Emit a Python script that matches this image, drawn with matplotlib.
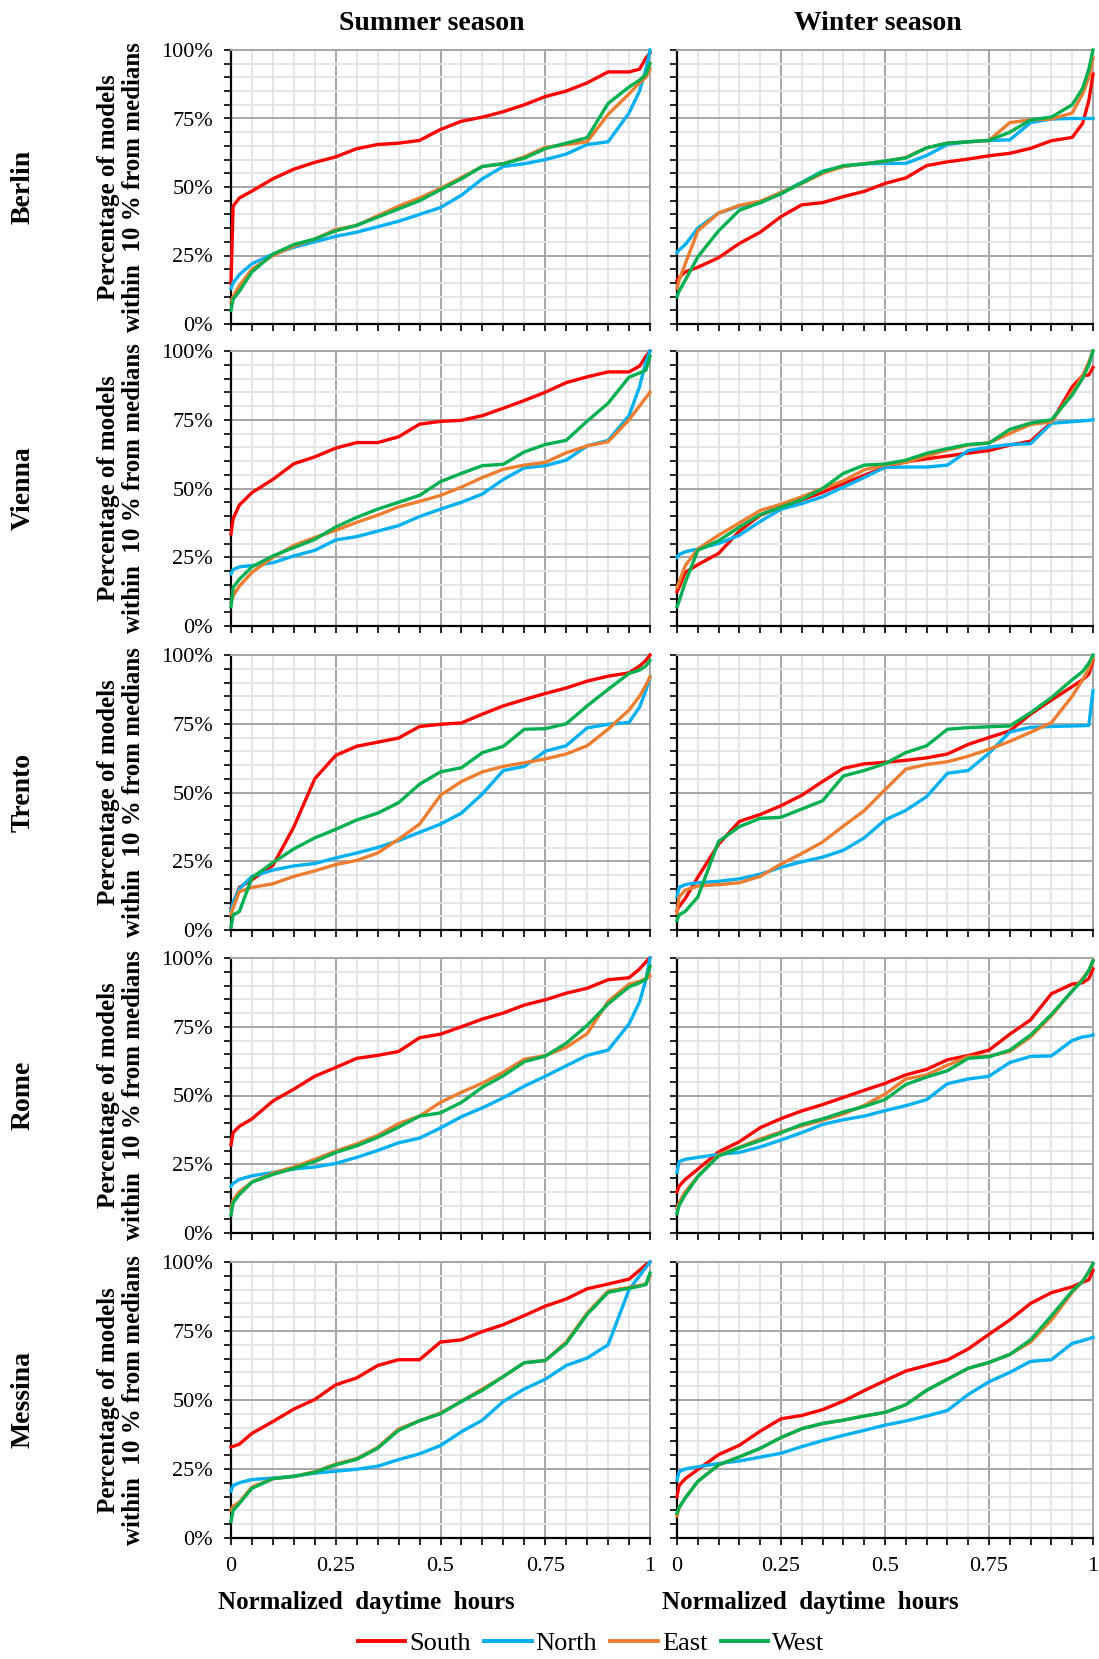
import matplotlib
matplotlib.use("Agg")
import matplotlib.pyplot as plt
from matplotlib.lines import Line2D
import numpy as np

plt.rcParams['font.family'] = ['Liberation Serif', 'DejaVu Serif']
SERIF = ['Liberation Serif', 'DejaVu Serif']

# ---------------- data ----------------
x_grid = [0, 0.005, 0.02, 0.05, 0.1, 0.15, 0.2, 0.25, 0.3, 0.35, 0.4, 0.45, 0.5,
          0.55, 0.6, 0.65, 0.7, 0.75, 0.8, 0.85, 0.9, 0.95, 0.975, 0.99, 1.0]

cities = ["Berlin", "Vienna", "Trento", "Rome", "Messina"]
seasons = ["Summer season", "Winter season"]
series_names = ["South", "North", "East", "West"]
series_colors = ["#FF0000", "#00B0F0", "#ED7D31", "#00B050"]

# Berlin
berlin_summer_south = [15, 43, 46, 48.5, 53, 56.5, 59, 61, 64, 65.5, 66, 67, 71, 74, 75.5, 77.5, 80, 83, 85, 88, 92, 92, 93, 97, 99]
berlin_summer_north = [13, 15, 18, 22, 25.5, 28, 30, 32, 33.5, 35.5, 37.5, 40, 42.5, 47, 53, 57.5, 58.5, 60, 62, 65.5, 66.5, 77, 85, 93, 100]
berlin_summer_east = [8, 10, 14, 20, 25, 28.5, 31, 34.5, 36, 39.5, 43, 46, 49.5, 53.5, 57.5, 58.5, 61, 64.5, 65.5, 66.5, 76.5, 84, 88, 90, 93]
berlin_summer_west = [5, 9, 12, 19, 25.5, 29, 31, 34, 36, 39, 42, 45, 49, 53, 57.5, 58.5, 60.5, 64, 66, 68, 80.5, 86.5, 89, 91, 95]
berlin_winter_south = [15.8, 17, 19, 20.7, 24.2, 29.4, 33.5, 39.2, 43.5, 44.3, 46.5, 48.4, 51.3, 53.3, 57.8, 59.2, 60.2, 61.4, 62.3, 64.1, 66.9, 68.1, 73.2, 81.5, 91.2]
berlin_winter_north = [26, 27, 29, 35, 40.5, 43, 44.2, 48, 51.7, 55.8, 57.5, 58.5, 58.6, 58.6, 61.5, 65.5, 66.5, 67, 67.2, 73.5, 74.8, 75, 75, 75, 75]
berlin_winter_east = [13, 16, 22, 34, 40.5, 43.3, 44.8, 48, 51.3, 55, 57.5, 58.5, 59.3, 60.8, 64.3, 66, 66.5, 67, 73.5, 74.5, 74.8, 77, 84, 90, 97]
berlin_winter_west = [10, 12, 16, 24.5, 34, 41.5, 44.3, 47.5, 51.5, 55.5, 57.8, 58.4, 59.5, 60.6, 64.3, 66, 66.5, 67, 70, 74.5, 75.5, 80, 86, 93, 100]

# Vienna
vienna_summer_south = [33.5, 39, 44, 48.5, 53.3, 59, 61.5, 64.7, 66.7, 66.7, 68.8, 73.4, 74.4, 74.8, 76.5, 79.2, 82, 85, 88.5, 90.6, 92.4, 92.4, 94.5, 98, 100]
vienna_summer_north = [19, 20.5, 21.5, 22, 23, 25.5, 27.5, 31.3, 32.5, 34.5, 36.5, 39.8, 42.5, 45, 48, 53.3, 57.5, 58.3, 60.3, 65.5, 67.5, 76.5, 87, 96, 100]
vienna_summer_east = [8.5, 11, 14.5, 19.5, 25, 29.3, 32.2, 34.8, 37.7, 40.3, 43.3, 45.3, 47.5, 50.5, 54, 57, 58.5, 59.5, 63, 65.5, 67, 75, 80, 83, 85]
vienna_summer_west = [7, 14, 17, 21.5, 25.5, 28.5, 31.5, 36, 39.5, 42.5, 45, 47.5, 52.5, 55.5, 58.3, 58.8, 63.3, 66, 67.5, 74.5, 81, 90.5, 92, 93, 98]
vienna_winter_south = [12.5, 14, 19.5, 22.3, 26.4, 34.5, 40.3, 43.3, 45.8, 48.6, 51.8, 54.8, 57.8, 59.7, 60.8, 61.8, 62.9, 63.8, 65.8, 67.2, 74, 87, 91, 91.3, 94]
vienna_winter_north = [25, 26, 27, 28, 30, 33, 38, 42.5, 44.5, 47, 50.5, 54, 57.7, 57.8, 57.8, 58.5, 63.8, 65, 66, 66.3, 73.7, 74.3, 74.6, 74.8, 75]
vienna_winter_east = [14, 16, 22, 28, 33, 37.5, 42, 44.3, 47, 50, 52.8, 56.8, 58.6, 59.5, 61.8, 64, 65.8, 66.6, 70, 73.3, 74.2, 85, 91, 96, 100]
vienna_winter_west = [7, 9, 16, 27.5, 31, 36, 40.5, 43.2, 46, 50, 55.5, 58.5, 58.9, 60.3, 62.8, 64.5, 66, 66.5, 71.5, 73.8, 75, 84, 90, 95, 100]

# Trento
trento_summer_south = [8, 9.5, 15.5, 18.3, 23.5, 37.5, 55, 63.5, 66.8, 68.3, 69.8, 74, 74.8, 75.3, 78.5, 81.5, 83.8, 86, 88, 90.5, 92.3, 93.5, 96, 98, 100]
trento_summer_north = [7, 10, 15, 19.5, 21.8, 23.3, 24.2, 26.2, 28, 30, 32.5, 35.5, 38.5, 42.5, 49.5, 58, 59.5, 65, 67, 73.5, 74.8, 75.5, 81, 87, 92]
trento_summer_east = [5.5, 8, 14, 15.5, 16.8, 19.5, 21.5, 23.8, 25.3, 28, 33, 38.5, 49, 54, 57.5, 59.5, 60.8, 62.2, 64, 67, 73, 80, 85, 89, 92]
trento_summer_west = [1, 5.5, 6.7, 19, 24.5, 29.5, 33.5, 36.6, 40, 42.5, 46.3, 53, 57.5, 59, 64.5, 66.8, 73, 73.2, 75, 81.5, 87.5, 93.3, 94.5, 96, 98]
trento_winter_south = [7, 8.5, 11.5, 19.2, 31.2, 39.5, 42, 45.2, 49, 54, 58.8, 60.4, 61, 61.7, 62.6, 64, 67.5, 70, 72.4, 78.5, 83.6, 88.5, 91, 93, 98]
trento_winter_north = [12, 15.5, 16.5, 17.2, 17.7, 18.6, 20.3, 22.8, 24.8, 26.5, 29, 33.5, 40, 43.5, 48.5, 57, 58, 64.3, 72, 73.7, 74, 74.2, 74.3, 74.4, 87]
trento_winter_east = [6, 12, 14.5, 16, 16.5, 17.2, 19.5, 24, 27.8, 32, 37.8, 43.4, 51, 58.5, 60.2, 61.2, 63.2, 65.7, 68.6, 71.9, 75.4, 85, 91, 95, 99]
trento_winter_west = [3.5, 5.5, 6.8, 12, 32.2, 37.6, 40.6, 41, 44, 47, 56, 58, 60.5, 64.5, 67, 73, 73.6, 73.9, 74.2, 79, 84.5, 91, 94, 97, 100]

# Rome
rome_summer_south = [32, 36.5, 38.8, 41.5, 48, 52.3, 57, 60.2, 63.5, 64.6, 66, 71, 72.3, 75, 77.8, 80, 82.9, 84.8, 87.2, 89, 92.1, 92.8, 96, 98.5, 100]
rome_summer_north = [17, 18, 19.5, 20.8, 22, 23.3, 24, 25.3, 27.5, 30, 32.8, 34.5, 38.2, 42.3, 45.5, 49.2, 53.4, 57, 60.8, 64.6, 66.5, 76, 84, 92, 100]
rome_summer_east = [9, 12, 15, 18.5, 21.8, 24, 26.8, 29.8, 32.4, 35.5, 39.8, 42.5, 47.5, 51.2, 54.5, 58.5, 63.2, 64.5, 67.5, 72.5, 84.2, 90.5, 91.5, 92.5, 93.5]
rome_summer_west = [6.5, 11, 14, 18.5, 21.3, 23.5, 26, 29.3, 31.7, 34.8, 38.5, 42.5, 43.7, 47.5, 53, 57.2, 62.3, 64.3, 69, 75.5, 83.3, 89.5, 91, 92.2, 97]
rome_winter_south = [15, 17, 19.5, 23.2, 29.5, 33.2, 38.3, 41.6, 44.4, 46.7, 49.3, 51.9, 54.4, 57.5, 59.5, 63, 64.5, 66.5, 72.3, 77.5, 87, 90.5, 91, 92.5, 96]
rome_winter_north = [22, 26, 26.8, 27.5, 28.6, 29.3, 31.3, 33.8, 36.5, 39.5, 41.2, 42.5, 44.5, 46.3, 48.5, 54.3, 56, 57, 62, 64.2, 64.4, 70, 71.3, 71.6, 72]
rome_winter_east = [9, 11, 15, 20.5, 28.5, 31.2, 34.2, 36.8, 39, 41, 43.3, 46.4, 50.5, 56, 57.5, 61, 64.2, 64.3, 66, 71.3, 79, 88, 92.5, 95.5, 99]
rome_winter_west = [7, 10, 14, 20.5, 28, 31, 33.6, 36.4, 39.5, 41.5, 44, 46, 48.5, 54, 56.7, 59, 63.5, 64.1, 66.5, 72, 79.5, 88, 92, 95.5, 99]

# Messina
messina_summer_south = [33, 33.2, 34, 37.9, 42.2, 46.7, 50.2, 55.5, 58, 62.5, 64.6, 64.6, 71, 71.8, 74.8, 77.3, 80.6, 84, 86.6, 90.3, 92, 93.8, 97, 99, 100]
messina_summer_north = [17, 19, 20, 21.2, 21.7, 22.4, 23.5, 24.2, 24.9, 26, 28.4, 30.5, 33.5, 38.5, 42.7, 49.5, 54, 57.5, 62.5, 65.2, 70, 90, 95, 98, 100]
messina_summer_east = [10, 11.5, 13, 18.5, 21.5, 22.3, 24, 26.8, 28.8, 32.8, 39.5, 42.5, 45.3, 49.5, 54, 58.5, 63.5, 64.3, 71, 81.5, 89.5, 90.8, 91.5, 92, 95]
messina_summer_west = [6, 10, 12.5, 18, 21.5, 22.3, 23.8, 26.5, 28.5, 32.5, 39, 42.5, 45, 49.5, 53.5, 58.5, 63.5, 64.3, 70.5, 81, 89, 90.5, 91.2, 91.8, 96]
messina_winter_south = [15, 19, 21.5, 24.8, 30.2, 33.6, 38.7, 43.2, 44.4, 46.5, 49.6, 53.4, 57, 60.5, 62.5, 64.5, 68.5, 73.8, 79, 85, 88.9, 91, 92.7, 93.5, 97]
messina_winter_north = [21, 24, 25, 25.8, 27, 27.9, 29.3, 30.7, 33.1, 35.3, 37.2, 39, 40.9, 42.4, 44.2, 46.2, 52, 56.6, 60, 64, 64.6, 70.5, 71.5, 72.2, 72.7]
messina_winter_east = [8, 11, 14.5, 20.5, 26.5, 29.4, 32.5, 36.4, 39.6, 41.5, 42.7, 44.2, 45.5, 48.3, 53.5, 57.5, 61.5, 63.6, 66.5, 71, 79, 89, 93, 96.5, 99.4]
messina_winter_west = [9, 11, 14.5, 20.5, 26.5, 29.4, 32.5, 36.4, 39.6, 41.5, 42.7, 44.2, 45.5, 48.3, 53.5, 57.5, 61.5, 63.6, 66.5, 71.8, 80.5, 89.5, 93, 96.5, 99.4]

panels = [
    [[berlin_summer_south, berlin_summer_north, berlin_summer_east, berlin_summer_west],
     [berlin_winter_south, berlin_winter_north, berlin_winter_east, berlin_winter_west]],
    [[vienna_summer_south, vienna_summer_north, vienna_summer_east, vienna_summer_west],
     [vienna_winter_south, vienna_winter_north, vienna_winter_east, vienna_winter_west]],
    [[trento_summer_south, trento_summer_north, trento_summer_east, trento_summer_west],
     [trento_winter_south, trento_winter_north, trento_winter_east, trento_winter_west]],
    [[rome_summer_south, rome_summer_north, rome_summer_east, rome_summer_west],
     [rome_winter_south, rome_winter_north, rome_winter_east, rome_winter_west]],
    [[messina_summer_south, messina_summer_north, messina_summer_east, messina_summer_west],
     [messina_winter_south, messina_winter_north, messina_winter_east, messina_winter_west]],
]

x_major = [0, 0.25, 0.5, 0.75, 1.0]
x_labels = ["0", "0.25", "0.5", "0.75", "1"]
y_major = [0, 25, 50, 75, 100]
y_labels = ["0%", "25%", "50%", "75%", "100%"]

# ---------------- layout ----------------
W, H = 1099, 1659
fig = plt.figure(figsize=(W / 100, H / 100), dpi=100)

col_px = [(231, 650), (677, 1093)]
row_px = [(50, 324), (351, 626), (655, 930), (958, 1233), (1262, 1538)]
title_x_px = [432, 878]

major_grid = "#A6A6A6"
minor_grid = "#E3E3E3"

for r, (y0, y1) in enumerate(row_px):
    for c, (x0, x1) in enumerate(col_px):
        ax = fig.add_axes([x0 / W, 1 - y1 / H, (x1 - x0) / W, (y1 - y0) / H])
        for vals, color in zip(panels[r][c], series_colors):
            ax.plot(x_grid, vals, color=color, lw=2.4, clip_on=False,
                    solid_joinstyle="round", zorder=3)
        ax.set_xlim(0, 1)
        ax.set_ylim(0, 100)
        ax.set_xticks(x_major)
        ax.set_xticks(np.arange(0, 1.0001, 0.05), minor=True)
        ax.set_yticks(y_major)
        ax.set_yticks(np.arange(0, 100.01, 5), minor=True)
        ax.set_axisbelow(True)
        ax.grid(which="minor", color=minor_grid, lw=1.3, zorder=0)
        ax.grid(which="major", color=major_grid, lw=1.4, zorder=1)
        ax.tick_params(which="both", direction="out", length=5, width=1.2,
                       color="black", labelsize=16)
        ax.tick_params(axis="y", pad=8)
        ax.tick_params(axis="x", pad=9)
        for s in ("left", "bottom"):
            ax.spines[s].set_color("black")
            ax.spines[s].set_linewidth(1.6)
        for s in ("top", "right"):
            ax.spines[s].set_color(major_grid)
            ax.spines[s].set_linewidth(1.4)
        if c == 0:
            ax.set_yticklabels(y_labels, fontfamily=SERIF)
        else:
            ax.set_yticklabels([])
        if r == len(row_px) - 1:
            ax.set_xticklabels(x_labels, fontfamily=SERIF)
        else:
            ax.set_xticklabels([])
        if r == 0:
            fig.text(title_x_px[c] / W, 1 - 24 / H, seasons[c], ha="center",
                     va="center", fontsize=20, fontweight="bold")

    yc = 1 - (y0 + y1) / 2 / H
    fig.text(23 / W, yc, cities[r], rotation=90, ha="center", va="center",
             fontsize=20, fontweight="bold")
    fig.text(121 / W, yc, "Percentage of models\nwithin  10 % from medians",
             rotation=90, ha="center", va="center", multialignment="center",
             fontsize=18, fontweight="bold", linespacing=1.1)

fig.text(366 / W, 1 - 1603 / H, "Normalized  daytime  hours", ha="center",
         va="center", fontsize=18, fontweight="bold")
fig.text(810 / W, 1 - 1603 / H, "Normalized  daytime  hours", ha="center",
         va="center", fontsize=18, fontweight="bold")

handles = [Line2D([0], [0], color=c, lw=2.8) for c in series_colors]
fig.legend(handles, series_names, loc="center", bbox_to_anchor=(591 / W, 1 - 1643 / H),
           ncol=4, frameon=False, fontsize=19, handlelength=1.8,
           handletextpad=0.15, columnspacing=0.5)

fig.savefig("out.png", dpi=100)
